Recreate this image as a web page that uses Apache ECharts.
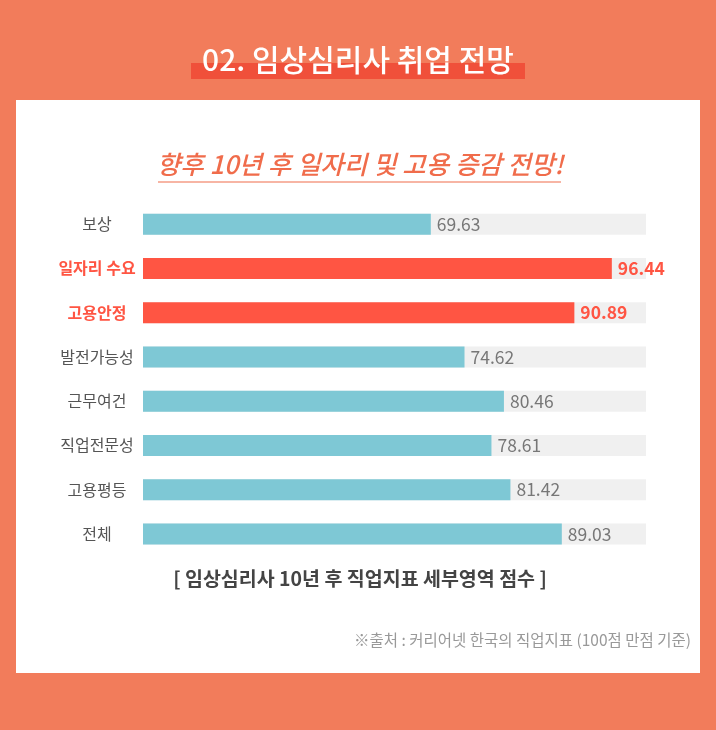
<!DOCTYPE html>
<html>
<head>
<meta charset="utf-8">
<script src="https://cdn.jsdelivr.net/npm/echarts@6/dist/echarts.min.js"></script>
<style>
html,body{margin:0;padding:0;background:#F27C5B;}
#c{width:716px;height:730px;}
</style>
</head>
<body>
<div id="c"></div>
<script>
const categories = ['보상', '일자리 수요', '고용안정', '발전가능성', '근무여건', '직업전문성', '고용평등', '전체'];
const values = [69.63, 96.44, 90.89, 74.62, 80.46, 78.61, 81.42, 89.03];
const highlighted = ['일자리 수요', '고용안정'];

const FONT = '"Noto Sans CJK KR", "Noto Sans", sans-serif';
const RED = '#FF5543';
const BLUE = '#7EC8D5';

const chart = echarts.init(document.getElementById('c'));
chart.setOption({
  backgroundColor: '#F27C5B',
  textStyle: { fontFamily: FONT },
  animation: false,
  graphic: [
    { type: 'rect', shape: { x: 191, y: 63, width: 334, height: 16 }, style: { fill: '#F0503A' }, z: 1 },
    { type: 'text', x: 358, y: 60, z: 2, style: { text: '02. 임상심리사 취업 전망', fill: '#fff', font: '500 30px ' + FONT, textAlign: 'center', textVerticalAlign: 'middle' } },
    { type: 'rect', shape: { x: 16, y: 100, width: 684, height: 573 }, style: { fill: '#fff' }, z: 0 },
    { type: 'text', x: 360, y: 164, z: 2, style: { text: '향후 10년 후 일자리 및 고용 증감 전망!', fill: '#F06C4B', font: 'italic 500 25.5px ' + FONT, textAlign: 'center', textVerticalAlign: 'middle' } },
    { type: 'line', shape: { x1: 158, y1: 182, x2: 561, y2: 182 }, style: { stroke: '#F06C4B', lineWidth: 1.2 }, z: 2 },
    { type: 'text', x: 360, y: 579, z: 2, style: { text: '[ 임상심리사 10년 후 직업지표 세부영역 점수 ]', fill: '#444', font: 'bold 19.5px ' + FONT, textAlign: 'center', textVerticalAlign: 'middle' } },
    { type: 'text', x: 691, y: 640, z: 2, style: { text: '※출처 : 커리어넷 한국의 직업지표 (100점 만점 기준)', fill: '#999', font: '15.5px ' + FONT, textAlign: 'right', textVerticalAlign: 'middle' } }
  ],
  grid: { left: 143, right: 70, top: 202, height: 354, containLabel: false },
  xAxis: { type: 'value', min: 27, max: 101.5, show: false },
  yAxis: {
    type: 'category', inverse: true, data: categories,
    axisLine: { show: false }, axisTick: { show: false },
    axisLabel: {
      margin: 46, align: 'center',
      formatter: v => highlighted.includes(v) ? '{h|' + v + '}' : '{n|' + v + '}',
      rich: {
        n: { fontSize: 16, color: '#555', fontFamily: FONT },
        h: { fontSize: 16, color: RED, fontWeight: 'bold', fontFamily: FONT }
      }
    }
  },
  series: [{
    type: 'bar', barWidth: 21, z: 5,
    showBackground: true, backgroundStyle: { color: '#F0F0F0' },
    data: values.map((v, i) => ({
      value: v,
      itemStyle: { color: highlighted.includes(categories[i]) ? RED : BLUE }
    })),
    label: {
      show: true, position: 'right', distance: 6,
      formatter: p => highlighted.includes(p.name) ? '{h|' + p.value.toFixed(2) + '}' : '{n|' + p.value.toFixed(2) + '}',
      rich: {
        n: { fontSize: 17.5, color: '#777', fontFamily: FONT },
        h: { fontSize: 17.5, color: RED, fontWeight: 'bold', fontFamily: FONT }
      }
    }
  }]
});
</script>
</body>
</html>
